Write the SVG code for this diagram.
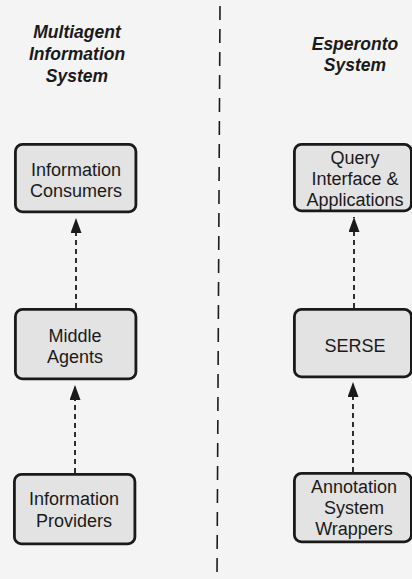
<svg xmlns="http://www.w3.org/2000/svg" width="412" height="579" viewBox="0 0 412 579">
  <defs>
    <marker id="head" markerWidth="15" markerHeight="11" refX="15" refY="5.5" orient="auto" markerUnits="userSpaceOnUse" viewBox="0 0 15 11">
      <path d="M0,0 L15,5.5 L0,11 Z" fill="#1a1a1a"/>
    </marker>
    <style>
      .box { fill: #e3e3e3; stroke: #1a1a1a; stroke-width: 2.8; }
      .lbl { font-family: "Liberation Sans", Arial, sans-serif; font-size: 18px; fill: #1a1a1a; text-anchor: middle; }
      .ttl { font-family: "Liberation Sans", Arial, sans-serif; font-size: 17.5px; font-weight: bold; font-style: italic; fill: #1a1a1a; text-anchor: middle; }
      .flow { stroke: #1a1a1a; stroke-width: 1.8; stroke-dasharray: 5 4; fill: none; }
      .divider { stroke: #1a1a1a; stroke-width: 1.6; stroke-dasharray: 14 9; fill: none; }
    </style>
  </defs>

  <rect width="412" height="579" fill="#f4f4f4"/>

  <!-- column headings -->
  <g id="heading-left">
    <text class="ttl" x="77" y="38">Multiagent</text>
    <text class="ttl" x="77" y="60">Information</text>
    <text class="ttl" x="77" y="82">System</text>
  </g>
  <g id="heading-right">
    <text class="ttl" x="355" y="50">Esperonto</text>
    <text class="ttl" x="355" y="71">System</text>
  </g>

  <!-- connectors -->
  <g id="connectors">
    <path class="divider" d="M220,6 L217,579"/>
    <line class="flow" x1="76" y1="308" x2="76" y2="218" marker-end="url(#head)"/>
    <line class="flow" x1="75" y1="473" x2="75" y2="385" marker-end="url(#head)"/>
    <line class="flow" x1="354" y1="308" x2="354" y2="217" marker-end="url(#head)"/>
    <line class="flow" x1="353" y1="472" x2="353" y2="382" marker-end="url(#head)"/>
  </g>

  <!-- left column -->
  <g id="info-consumers">
    <rect class="box" x="15.4" y="144.4" width="120.5" height="67.5" rx="7"/>
    <text class="lbl" x="76" y="176">Information</text>
    <text class="lbl" x="76" y="197">Consumers</text>
  </g>
  <g id="middle-agents">
    <rect class="box" x="15.4" y="309.4" width="120.5" height="69.5" rx="7"/>
    <text class="lbl" x="75" y="342">Middle</text>
    <text class="lbl" x="75" y="363">Agents</text>
  </g>
  <g id="info-providers">
    <rect class="box" x="14.4" y="474.4" width="120.5" height="69.5" rx="7"/>
    <text class="lbl" x="74" y="505">Information</text>
    <text class="lbl" x="74" y="527">Providers</text>
  </g>

  <!-- right column -->
  <g id="query-interface">
    <rect class="box" x="294.4" y="144.4" width="117" height="66.5" rx="7"/>
    <text class="lbl" x="355" y="164">Query</text>
    <text class="lbl" x="355" y="185">Interface &amp;</text>
    <text class="lbl" x="355" y="206">Applications</text>
  </g>
  <g id="serse">
    <rect class="box" x="294.4" y="309.4" width="117" height="67.5" rx="7"/>
    <text class="lbl" x="355" y="352">SERSE</text>
  </g>
  <g id="annotation-wrappers">
    <rect class="box" x="294.4" y="473.4" width="117" height="68.5" rx="7"/>
    <text class="lbl" x="354" y="493">Annotation</text>
    <text class="lbl" x="354" y="514">System</text>
    <text class="lbl" x="354" y="535">Wrappers</text>
  </g>
</svg>
